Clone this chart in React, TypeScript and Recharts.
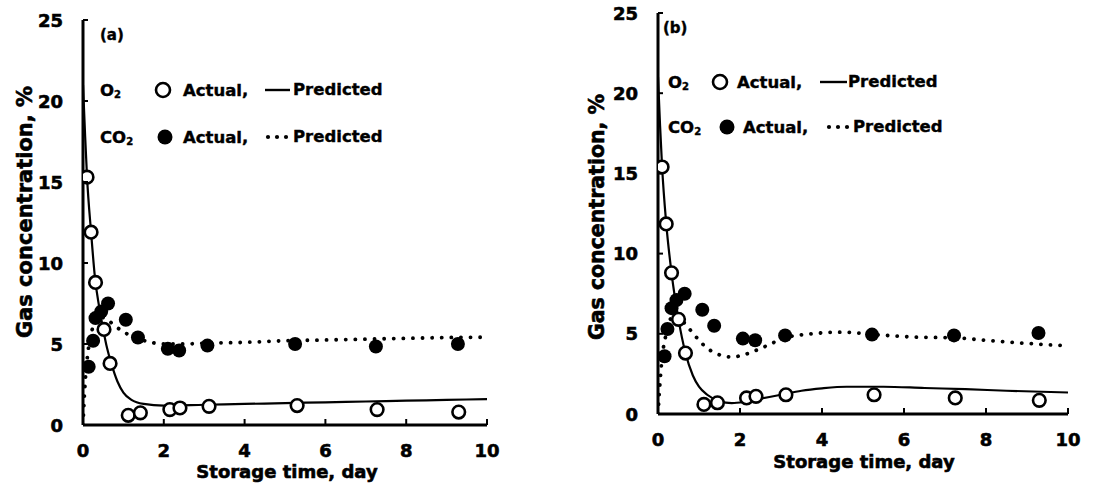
import React from 'react';
import { ComposedChart, Line, Scatter, XAxis, YAxis } from 'recharts';

type Pt = { x: number; y: number };

const xTickValues = [0, 2, 4, 6, 8, 10];
const yTickValues = [0, 5, 10, 15, 20, 25];

// ---------- Panel (a) ----------
const o2ActualA: Pt[] = [
  { x: 0.1, y: 15.3 }, { x: 0.2, y: 11.9 }, { x: 0.31, y: 8.8 }, { x: 0.52, y: 5.9 },
  { x: 0.67, y: 3.8 }, { x: 1.12, y: 0.6 }, { x: 1.42, y: 0.75 }, { x: 2.15, y: 0.95 },
  { x: 2.4, y: 1.05 }, { x: 3.12, y: 1.15 }, { x: 5.3, y: 1.2 }, { x: 7.28, y: 0.95 },
  { x: 9.3, y: 0.8 },
];
const co2ActualA: Pt[] = [
  { x: 0.14, y: 3.6 }, { x: 0.25, y: 5.2 }, { x: 0.31, y: 6.6 }, { x: 0.45, y: 7.0 },
  { x: 0.62, y: 7.5 }, { x: 1.06, y: 6.5 }, { x: 1.36, y: 5.4 }, { x: 2.1, y: 4.7 },
  { x: 2.38, y: 4.6 }, { x: 3.08, y: 4.9 }, { x: 5.25, y: 5.0 }, { x: 7.25, y: 4.85 },
  { x: 9.28, y: 5.0 },
];
const o2PredA: Pt[] = [
  { x: 0, y: 21 }, { x: 0.05, y: 18 }, { x: 0.1, y: 15.3 }, { x: 0.2, y: 11.9 },
  { x: 0.3, y: 9.0 }, { x: 0.4, y: 7.3 }, { x: 0.5, y: 5.9 }, { x: 0.6, y: 4.7 },
  { x: 0.7, y: 3.8 }, { x: 0.85, y: 2.7 }, { x: 1.0, y: 2.0 }, { x: 1.2, y: 1.55 },
  { x: 1.5, y: 1.3 }, { x: 2.0, y: 1.2 }, { x: 3, y: 1.25 }, { x: 4, y: 1.3 },
  { x: 5, y: 1.35 }, { x: 6, y: 1.4 }, { x: 7, y: 1.45 }, { x: 8, y: 1.5 },
  { x: 9, y: 1.55 }, { x: 10, y: 1.6 },
];
const co2PredA: Pt[] = [
  { x: 0, y: 0 }, { x: 0.05, y: 2.5 }, { x: 0.1, y: 4.0 }, { x: 0.2, y: 5.6 },
  { x: 0.3, y: 6.4 }, { x: 0.4, y: 6.7 }, { x: 0.6, y: 6.5 }, { x: 0.8, y: 6.1 },
  { x: 1.0, y: 5.75 }, { x: 1.3, y: 5.4 }, { x: 1.6, y: 5.15 }, { x: 2.0, y: 5.0 },
  { x: 2.5, y: 5.0 }, { x: 3, y: 5.05 }, { x: 4, y: 5.1 }, { x: 5, y: 5.2 },
  { x: 6, y: 5.25 }, { x: 7, y: 5.3 }, { x: 8, y: 5.35 }, { x: 9, y: 5.4 },
  { x: 10, y: 5.42 },
];

// ---------- Panel (b) ----------
const o2ActualB: Pt[] = [
  { x: 0.1, y: 15.4 }, { x: 0.2, y: 11.85 }, { x: 0.33, y: 8.8 }, { x: 0.5, y: 5.9 },
  { x: 0.67, y: 3.8 }, { x: 1.12, y: 0.6 }, { x: 1.45, y: 0.7 }, { x: 2.16, y: 1.0 },
  { x: 2.39, y: 1.1 }, { x: 3.12, y: 1.2 }, { x: 5.27, y: 1.2 }, { x: 7.25, y: 1.0 },
  { x: 9.3, y: 0.85 },
];
const co2ActualB: Pt[] = [
  { x: 0.16, y: 3.6 }, { x: 0.23, y: 5.3 }, { x: 0.33, y: 6.6 }, { x: 0.45, y: 7.1 },
  { x: 0.65, y: 7.5 }, { x: 1.08, y: 6.5 }, { x: 1.37, y: 5.5 }, { x: 2.07, y: 4.7 },
  { x: 2.37, y: 4.6 }, { x: 3.1, y: 4.9 }, { x: 5.22, y: 4.95 }, { x: 7.22, y: 4.9 },
  { x: 9.28, y: 5.05 },
];
const o2PredB: Pt[] = [
  { x: 0, y: 21 }, { x: 0.05, y: 18 }, { x: 0.1, y: 15.4 }, { x: 0.2, y: 11.9 },
  { x: 0.33, y: 8.8 }, { x: 0.5, y: 5.9 }, { x: 0.67, y: 3.8 }, { x: 0.85, y: 2.4 },
  { x: 1.0, y: 1.7 }, { x: 1.2, y: 1.2 }, { x: 1.5, y: 0.8 }, { x: 1.8, y: 0.68 },
  { x: 2.1, y: 0.75 }, { x: 2.5, y: 0.95 }, { x: 3.0, y: 1.2 }, { x: 3.5, y: 1.45 },
  { x: 4, y: 1.6 }, { x: 4.6, y: 1.7 }, { x: 5.5, y: 1.7 }, { x: 6.5, y: 1.62 },
  { x: 7.5, y: 1.55 }, { x: 8.5, y: 1.45 }, { x: 10, y: 1.34 },
];
const co2PredB: Pt[] = [
  { x: 0, y: 0 }, { x: 0.05, y: 2.0 }, { x: 0.1, y: 3.5 }, { x: 0.2, y: 5.0 },
  { x: 0.3, y: 5.9 }, { x: 0.45, y: 6.2 }, { x: 0.6, y: 5.8 }, { x: 0.8, y: 5.2 },
  { x: 1.0, y: 4.6 }, { x: 1.2, y: 4.1 }, { x: 1.4, y: 3.8 }, { x: 1.8, y: 3.55 },
  { x: 2.1, y: 3.7 }, { x: 2.6, y: 4.2 }, { x: 3.1, y: 4.75 }, { x: 3.75, y: 5.0 },
  { x: 4.5, y: 5.1 }, { x: 5.3, y: 4.95 }, { x: 6.2, y: 4.8 }, { x: 7.2, y: 4.75 },
  { x: 8.2, y: 4.55 }, { x: 9.3, y: 4.35 }, { x: 10, y: 4.25 },
];

const FONT = '"DejaVu Sans", "Liberation Sans", Arial, sans-serif';
const Y_AXIS_W = 60;
const X_AXIS_H = 40;
const Y_TICK_MARGIN = 20;
const X_TICK_MARGIN = 25;

const heavy = {
  fontFamily: FONT,
  fontWeight: 'bold' as const,
  fill: '#000',
  stroke: '#000',
  strokeWidth: 0.6,
};

const YTick = (props: any) => {
  const { x, y, payload } = props;
  const v = payload.value;
  const ax = x + Y_TICK_MARGIN;
  return (
    <g>
      {v > 0 && (
        <line x1={ax} x2={ax + 5} y1={y} y2={y} stroke="#000" strokeWidth={2} />
      )}
      <text x={x} y={y} textAnchor="end" dominantBaseline="central" fontSize={18} {...heavy}>
        {v}
      </text>
    </g>
  );
};

const XTick = (props: any) => {
  const { x, y, payload } = props;
  const v = payload.value;
  const ay = y - X_TICK_MARGIN;
  return (
    <g>
      {v > 0 && (
        <line x1={x} x2={x} y1={ay} y2={ay - 6} stroke="#000" strokeWidth={2} />
      )}
      <text x={x} y={y} textAnchor="middle" dominantBaseline="central" fontSize={18} {...heavy}>
        {v}
      </text>
    </g>
  );
};

const OpenDot = (p: any) => (
  <circle cx={p.cx} cy={p.cy} r={6.3} fill="#fff" stroke="#000" strokeWidth={2.6} />
);
const FilledDot = (p: any) => <circle cx={p.cx} cy={p.cy} r={7} fill="#000" />;

type PanelProps = {
  left: number;
  width: number;
  plotLeft: number;
  plotRight: number;
  plotTop: number;
  plotBottom: number;
  o2Act: Pt[];
  co2Act: Pt[];
  o2Pred: Pt[];
  co2Pred: Pt[];
};

const H = 488;

function Panel(p: PanelProps) {
  const margin = {
    top: p.plotTop,
    left: p.plotLeft - p.left - Y_AXIS_W,
    right: p.left + p.width - p.plotRight,
    bottom: H - p.plotBottom - X_AXIS_H,
  };
  return (
    <div style={{ position: 'absolute', left: p.left, top: 0, width: p.width, height: H }}>
      <ComposedChart width={p.width} height={H} margin={margin}>
        <XAxis
          type="number"
          dataKey="x"
          domain={[0, 10]}
          ticks={xTickValues}
          interval={0}
          height={X_AXIS_H}
          tickSize={0}
          tickMargin={X_TICK_MARGIN}
          tickLine={false}
          axisLine={{ stroke: '#000', strokeWidth: 3 }}
          tick={<XTick />}
          allowDataOverflow
        />
        <YAxis
          type="number"
          dataKey="y"
          domain={[0, 25]}
          ticks={yTickValues}
          interval={0}
          width={Y_AXIS_W}
          tickSize={0}
          tickMargin={Y_TICK_MARGIN}
          tickLine={false}
          axisLine={{ stroke: '#000', strokeWidth: 3 }}
          tick={<YTick />}
          allowDataOverflow
        />
        <Line
          data={p.o2Pred}
          dataKey="y"
          type="monotone"
          stroke="#000"
          strokeWidth={2.2}
          dot={false}
          activeDot={false}
          isAnimationActive={false}
        />
        <Line
          data={p.co2Pred}
          dataKey="y"
          type="monotone"
          stroke="#000"
          strokeWidth={3.8}
          strokeDasharray="0.1 9.5"
          strokeLinecap="round"
          dot={false}
          activeDot={false}
          isAnimationActive={false}
        />
        <Scatter data={p.co2Act} dataKey="y" shape={FilledDot} isAnimationActive={false} />
        <Scatter data={p.o2Act} dataKey="y" shape={OpenDot} isAnimationActive={false} />
      </ComposedChart>
    </div>
  );
}

type LegendPos = {
  tag: string;
  tagX: number;
  tagY: number;
  rowX: number;
  o2Y: number;
  co2Y: number;
  o2CircleX: number;
  co2CircleX: number;
  o2ActX: number;
  co2ActX: number;
  lineX1: number;
  lineX2: number;
  dotsX: number;
  o2PredX: number;
  co2PredX: number;
  yTitleX: number;
  yTitleY: number;
  yTitleSize: number;
  xTitleX: number;
  xTitleY: number;
};

function Decorations({ d }: { d: LegendPos }) {
  const fs = 16.5;
  const lt = { ...heavy, strokeWidth: 0.4 };
  return (
    <g>
      <text x={d.tagX} y={d.tagY} dominantBaseline="central" fontSize={15} {...lt}>
        {d.tag}
      </text>
      {/* O2 row */}
      <text x={d.rowX} y={d.o2Y} dominantBaseline="central" fontSize={fs} {...lt}>
        O<tspan fontSize={10} dy={4}>2</tspan>
      </text>
      <circle cx={d.o2CircleX} cy={d.o2Y} r={7} fill="#fff" stroke="#000" strokeWidth={2.6} />
      <text x={d.o2ActX} y={d.o2Y} dominantBaseline="central" fontSize={fs} {...lt}>
        Actual,
      </text>
      <line x1={d.lineX1} x2={d.lineX2} y1={d.o2Y} y2={d.o2Y} stroke="#000" strokeWidth={2.4} />
      <text x={d.o2PredX} y={d.o2Y - 1} dominantBaseline="central" fontSize={fs} {...lt}>
        Predicted
      </text>
      {/* CO2 row */}
      <text x={d.rowX} y={d.co2Y} dominantBaseline="central" fontSize={fs} {...lt}>
        CO<tspan fontSize={10} dy={4}>2</tspan>
      </text>
      <circle cx={d.co2CircleX} cy={d.co2Y} r={7.5} fill="#000" />
      <text x={d.co2ActX} y={d.co2Y} dominantBaseline="central" fontSize={fs} {...lt}>
        Actual,
      </text>
      {[0, 1, 2].map((i) => (
        <circle key={i} cx={d.dotsX + i * 9} cy={d.co2Y} r={2.1} fill="#000" />
      ))}
      <text x={d.co2PredX} y={d.co2Y - 1} dominantBaseline="central" fontSize={fs} {...lt}>
        Predicted
      </text>
      {/* axis titles */}
      <text
        x={d.yTitleX}
        y={d.yTitleY}
        textAnchor="middle"
        dominantBaseline="central"
        fontSize={d.yTitleSize}
        transform={`rotate(-90 ${d.yTitleX} ${d.yTitleY})`}
        {...heavy}
      >
        Gas concentration, %
      </text>
      <text
        x={d.xTitleX}
        y={d.xTitleY}
        textAnchor="middle"
        dominantBaseline="central"
        fontSize={18}
        {...heavy}
      >
        Storage time, day
      </text>
    </g>
  );
}

const legendA: LegendPos = {
  tag: '(a)', tagX: 100, tagY: 35, rowX: 100, o2Y: 90, co2Y: 137,
  o2CircleX: 163, co2CircleX: 165, o2ActX: 183, co2ActX: 183,
  lineX1: 265, lineX2: 290, dotsX: 268, o2PredX: 293, co2PredX: 293,
  yTitleX: 25, yTitleY: 212, yTitleSize: 21, xTitleX: 287, xTitleY: 471,
};
const legendB: LegendPos = {
  tag: '(b)', tagX: 663, tagY: 28, rowX: 668, o2Y: 82, co2Y: 127,
  o2CircleX: 720, co2CircleX: 727, o2ActX: 737, co2ActX: 743,
  lineX1: 820, lineX2: 847, dotsX: 829, o2PredX: 848, co2PredX: 853,
  yTitleX: 597, yTitleY: 217, yTitleSize: 20.5, xTitleX: 864, xTitleY: 461,
};

export default function App() {
  return (
    <div
      style={{
        position: 'absolute',
        left: 0,
        top: 0,
        width: 1101,
        height: 488,
        background: '#fff',
        overflow: 'hidden',
      }}
    >
      <Panel
        left={0}
        width={540}
        plotLeft={83}
        plotRight={487}
        plotTop={20}
        plotBottom={425}
        o2Act={o2ActualA}
        co2Act={co2ActualA}
        o2Pred={o2PredA}
        co2Pred={co2PredA}
      />
      <Panel
        left={560}
        width={541}
        plotLeft={658}
        plotRight={1068}
        plotTop={13}
        plotBottom={414}
        o2Act={o2ActualB}
        co2Act={co2ActualB}
        o2Pred={o2PredB}
        co2Pred={co2PredB}
      />
      <svg
        width={1101}
        height={488}
        style={{ position: 'absolute', left: 0, top: 0, pointerEvents: 'none' }}
      >
        <Decorations d={legendA} />
        <Decorations d={legendB} />
      </svg>
    </div>
  );
}
